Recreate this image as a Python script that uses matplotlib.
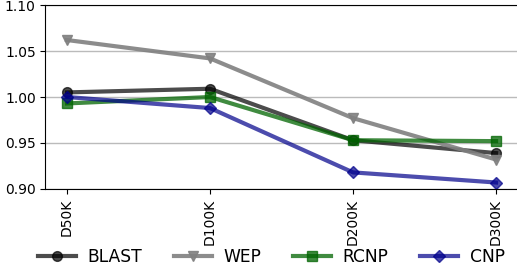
import matplotlib
matplotlib.use('Agg')
import matplotlib.pyplot as plt

datasets = ['D50K', 'D100K', 'D200K', 'D300K']
blast = [1.005, 1.009, 0.953, 0.939]
wep = [1.062, 1.042, 0.977, 0.932]
rcnp = [0.993, 1.000, 0.953, 0.952]
cnp = [1.000, 0.988, 0.918, 0.907]

fig = plt.figure(figsize=(5.17, 2.68), dpi=100)
ax = fig.add_axes([0.088, 0.295, 0.913, 0.686])
x = range(len(datasets))
ax.plot(x, blast, '-o', color='black', alpha=0.7, lw=3, ms=7, label='BLAST')
ax.plot(x, wep, '-v', color='gray', alpha=0.9, lw=3, ms=7, label='WEP')
ax.plot(x, rcnp, '-s', color='darkgreen', alpha=0.75, lw=3, ms=7, label='RCNP')
ax.plot(x, cnp, '-D', color='darkblue', alpha=0.7, lw=3, ms=6, label='CNP')
ax.set_ylim(0.90, 1.10)
ax.set_yticks([0.90, 0.95, 1.00, 1.05, 1.10])
ax.set_xticks(list(x))
ax.set_xticklabels(datasets, rotation=90)
ax.tick_params(labelsize=10)
ax.yaxis.grid(True, color='#bbbbbb', lw=1)
ax.set_axisbelow(True)
fig.legend(loc='center', bbox_to_anchor=(0.525, 0.04), ncol=4, frameon=False,
           fontsize=12.3, handlelength=2.2, handletextpad=0.7, columnspacing=1.85)
fig.savefig('out.png', dpi=100)
